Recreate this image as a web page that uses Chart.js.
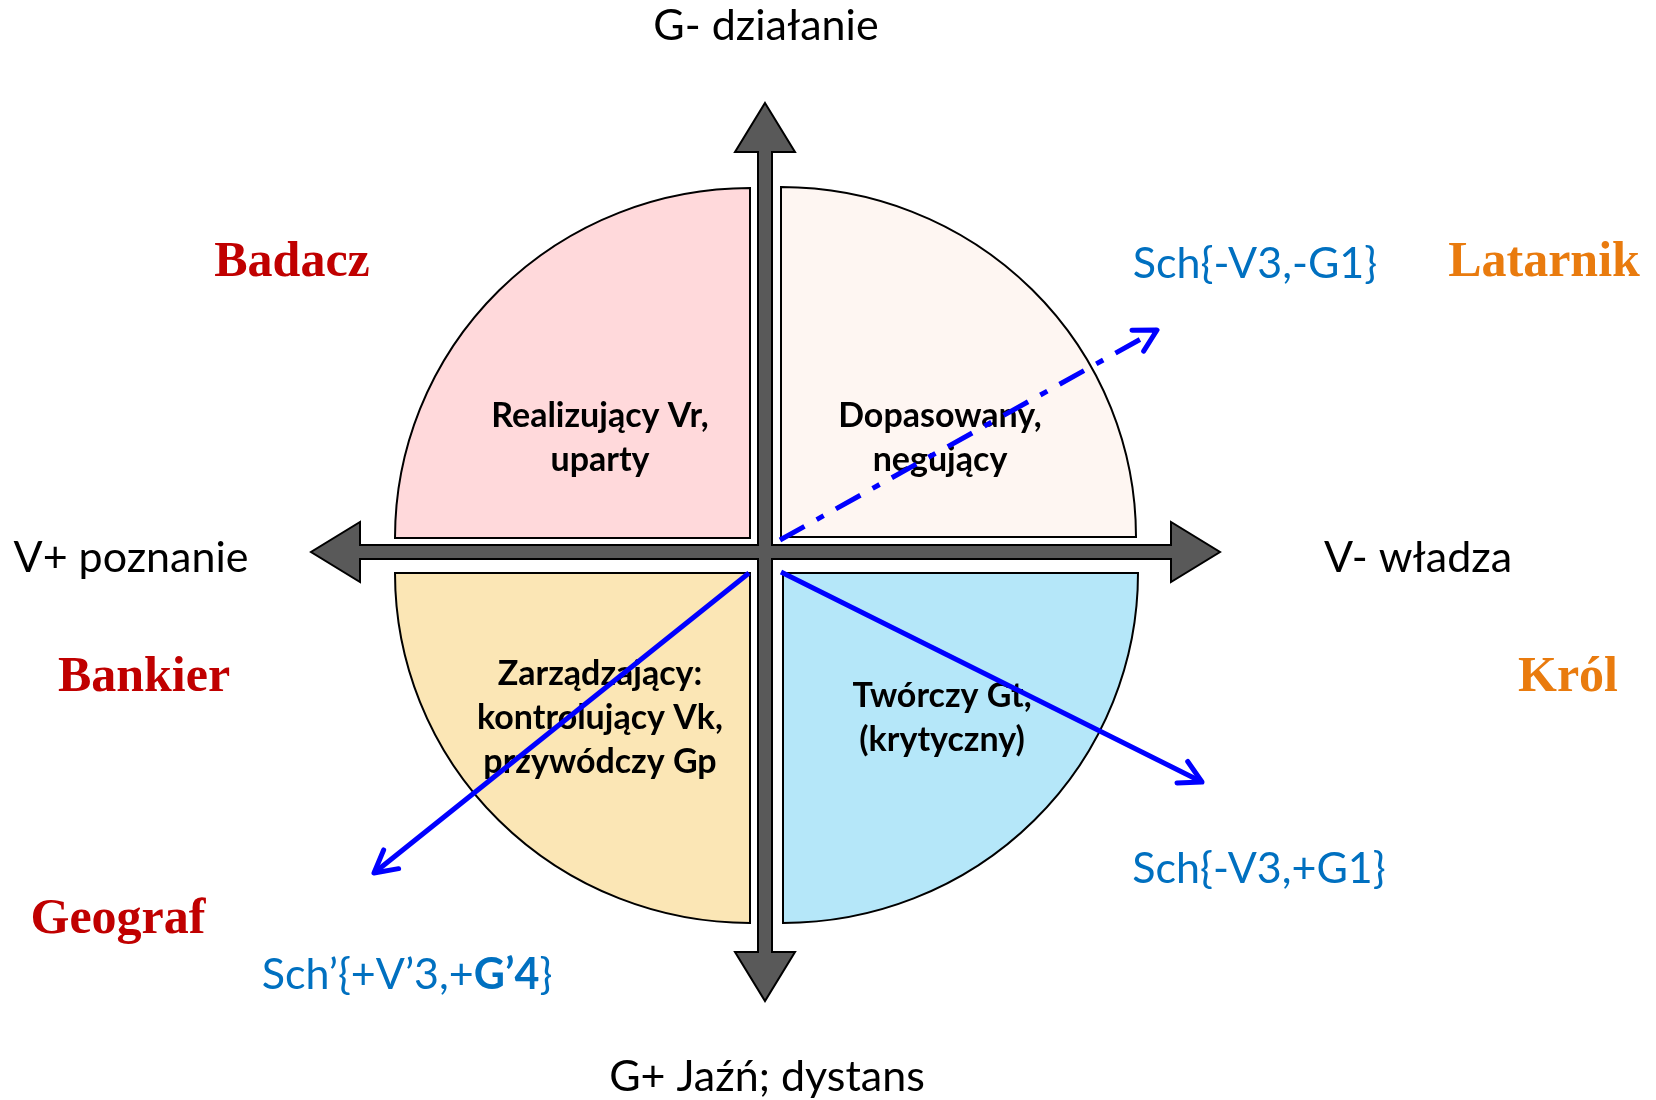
<!DOCTYPE html>
<html>
<head>
<meta charset="utf-8">
<script src="https://cdn.jsdelivr.net/npm/chart.js@4"></script>
<style>
html, body { margin: 0; padding: 0; background: #fff; }
</style>
</head>
<body>
<canvas id="Diagram" width="1656" height="1100"></canvas>
<script>
// diagram units: 1 unit = 100 px, origin where the two axes cross
var xRange = [-7.65, 8.91];
var yRange = [-5.48, 5.52];

// axis arrows: reach up, right, down, left
var axisReach = [4.49, 4.55, 4.49, 4.54];
var axisLabels = ['G- działanie', 'V- władza', 'G+ Jaźń; dystans', 'V+ poznanie'];
var axisLabelPos = [[0.01, 5.26], [6.53, -0.06], [0.02, -5.25], [-6.34, -0.06]];

// quadrants (sectors)
var quadrantNames = [
    ['Realizujący Vr,', 'uparty'],
    ['Dopasowany,', 'negujący'],
    ['Zarządzający:', 'kontrolujący Vk,', 'przywódczy Gp'],
    ['Twórczy Gt,', '(krytyczny)']
];
var quadrantCorner = [[-0.15, 0.14], [0.16, 0.15], [-0.15, -0.21], [0.18, -0.21]];
var quadrantDir = [[-1, 1], [1, 1], [-1, -1], [1, -1]];
var quadrantRadius = [3.55, 3.50];
var quadrantColors = ['#FFD9DB', '#FEF6F2', '#FBE6B5', '#B5E7F9'];
var quadrantTextPos = [[-1.65, 1.25], [1.75, 1.25], [-1.65, -1.33], [1.77, -1.55]];

// role names around the circle
var roleNames = ['Badacz', 'Latarnik', 'Bankier', 'Król', 'Geograf'];
var roleColors = ['#C00000', '#E97B0E', '#C00000', '#E97B0E', '#C00000'];
var rolePos = [[-4.73, 2.89], [7.79, 2.89], [-6.21, -1.26], [8.03, -1.26], [-6.47, -3.68]];

// blue vectors
var vectorNames = ['Sch{-V3,-G1}', 'Sch{-V3,+G1}', 'Sch’{+V’3,+|G’4|}'];
var vectorStart = [[0.15, 0.12], [0.16, -0.20], [-0.16, -0.21]];
var vectorEnd = [[3.92, 2.22], [4.37, -2.30], [-3.91, -3.21]];
var vectorDashed = [true, false, false];
var vectorLabelPos = [[4.90, 2.88], [4.94, -3.17], [-3.58, -4.23]];

var sansFont = 'Lato, "Open Sans", sans-serif';
var serifFont = '"Liberation Serif", "DejaVu Serif", serif';

function px(chart, x, y) {
    return [chart.scales.x.getPixelForValue(x), chart.scales.y.getPixelForValue(y)];
}

var diagramPlugin = {
    id: 'diagram',
    beforeDatasetsDraw: function (chart) {
        var ctx = chart.ctx;
        ctx.save();

        // quadrants
        for (var i = 0; i < quadrantCorner.length; i++) {
            var c = px(chart, quadrantCorner[i][0], quadrantCorner[i][1]);
            var d = quadrantDir[i];
            var ex = px(chart, quadrantCorner[i][0] + d[0] * quadrantRadius[0], quadrantCorner[i][1]);
            var ey = px(chart, quadrantCorner[i][0], quadrantCorner[i][1] + d[1] * quadrantRadius[1]);
            var rx = Math.abs(ex[0] - c[0]);
            var ry = Math.abs(ey[1] - c[1]);
            var a1 = Math.atan2(0, d[0]);
            var a2 = Math.atan2(-d[1], 0);
            var diff = a2 - a1;
            while (diff > Math.PI) diff -= 2 * Math.PI;
            while (diff <= -Math.PI) diff += 2 * Math.PI;
            ctx.beginPath();
            ctx.moveTo(c[0], c[1]);
            ctx.lineTo(ex[0], ex[1]);
            ctx.ellipse(c[0], c[1], rx, ry, 0, a1, a2, diff < 0);
            ctx.closePath();
            ctx.fillStyle = quadrantColors[i];
            ctx.fill();
            ctx.lineWidth = 2;
            ctx.strokeStyle = '#000';
            ctx.stroke();
        }

        // axis cross with four arrow heads
        var up = axisReach[0], rt = axisReach[1], dn = axisReach[2], lf = axisReach[3];
        var s = 0.07, hw = 0.30, hl = 0.49;
        var pts = [
            [0, up], [hw, up - hl], [s, up - hl], [s, s],
            [rt - hl, s], [rt - hl, hw], [rt, 0], [rt - hl, -hw], [rt - hl, -s],
            [s, -s], [s, -(dn - hl)], [hw, -(dn - hl)], [0, -dn], [-hw, -(dn - hl)], [-s, -(dn - hl)],
            [-s, -s], [-(lf - hl), -s], [-(lf - hl), -hw], [-lf, 0], [-(lf - hl), hw], [-(lf - hl), s],
            [-s, s], [-s, up - hl], [-hw, up - hl]
        ];
        ctx.beginPath();
        pts.forEach(function (p, k) {
            var q = px(chart, p[0], p[1]);
            if (k === 0) ctx.moveTo(q[0], q[1]); else ctx.lineTo(q[0], q[1]);
        });
        ctx.closePath();
        ctx.fillStyle = '#595959';
        ctx.fill();
        ctx.lineWidth = 2;
        ctx.lineJoin = 'miter';
        ctx.strokeStyle = '#000';
        ctx.stroke();

        // quadrant captions
        ctx.textAlign = 'center';
        ctx.textBaseline = 'alphabetic';
        ctx.fillStyle = '#000';
        ctx.font = 'bold 34px ' + sansFont;
        for (var j = 0; j < quadrantNames.length; j++) {
            var t = px(chart, quadrantTextPos[j][0], quadrantTextPos[j][1]);
            quadrantNames[j].forEach(function (line, n) {
                ctx.fillText(line, t[0], t[1] + n * 44);
            });
        }
        ctx.restore();
    },
    afterDatasetsDraw: function (chart) {
        var ctx = chart.ctx;
        ctx.save();

        // open arrow heads at the end of each vector
        chart.data.datasets.forEach(function (ds, i) {
            var meta = chart.getDatasetMeta(i);
            var p0 = meta.data[0], p1 = meta.data[1];
            var ang = Math.atan2(p1.y - p0.y, p1.x - p0.x);
            var len = 25, spread = 0.5;
            ctx.beginPath();
            ctx.moveTo(p1.x - len * Math.cos(ang - spread), p1.y - len * Math.sin(ang - spread));
            ctx.lineTo(p1.x, p1.y);
            ctx.lineTo(p1.x - len * Math.cos(ang + spread), p1.y - len * Math.sin(ang + spread));
            ctx.lineWidth = 5;
            ctx.lineJoin = 'round';
            ctx.lineCap = 'round';
            ctx.strokeStyle = '#0000FF';
            ctx.stroke();
        });

        ctx.textBaseline = 'middle';

        // axis labels
        ctx.textAlign = 'center';
        ctx.fillStyle = '#000';
        ctx.font = '43px ' + sansFont;
        axisLabels.forEach(function (txt, i) {
            var p = px(chart, axisLabelPos[i][0], axisLabelPos[i][1]);
            ctx.fillText(txt, p[0], p[1]);
        });

        // role names
        ctx.font = 'bold 50px ' + serifFont;
        roleNames.forEach(function (txt, i) {
            var p = px(chart, rolePos[i][0], rolePos[i][1]);
            ctx.fillStyle = roleColors[i];
            ctx.fillText(txt, p[0], p[1]);
        });

        // vector labels, parts between | are bold
        ctx.fillStyle = '#0070C0';
        ctx.textAlign = 'left';
        vectorNames.forEach(function (txt, i) {
            var parts = txt.split('|');
            var fonts = parts.map(function (_, k) { return (k % 2 ? 'bold ' : '') + '43px ' + sansFont; });
            var total = 0;
            parts.forEach(function (part, k) { ctx.font = fonts[k]; total += ctx.measureText(part).width; });
            var p = px(chart, vectorLabelPos[i][0], vectorLabelPos[i][1]);
            var x = p[0] - total / 2;
            parts.forEach(function (part, k) {
                ctx.font = fonts[k];
                ctx.fillText(part, x, p[1]);
                x += ctx.measureText(part).width;
            });
        });
        ctx.restore();
    }
};

var datasets = vectorStart.map(function (s, i) {
    return {
        label: vectorNames[i].replace(/\|/g, ''),
        data: [{ x: s[0], y: s[1] }, { x: vectorEnd[i][0], y: vectorEnd[i][1] }],
        showLine: true,
        borderColor: '#0000FF',
        borderWidth: 5,
        borderDash: vectorDashed[i] ? [28, 14, 8, 14] : [],
        pointRadius: 0,
        fill: false
    };
});

var ctx = document.getElementById('Diagram').getContext('2d');
var myChart = new Chart(ctx, {
    type: 'scatter',
    data: { datasets: datasets },
    options: {
        responsive: false,
        animation: false,
        layout: { padding: 0 },
        plugins: { legend: { display: false }, tooltip: { enabled: false } },
        scales: {
            x: { type: 'linear', min: xRange[0], max: xRange[1], display: false },
            y: { type: 'linear', min: yRange[0], max: yRange[1], display: false }
        }
    },
    plugins: [diagramPlugin]
});
</script>
</body>
</html>
